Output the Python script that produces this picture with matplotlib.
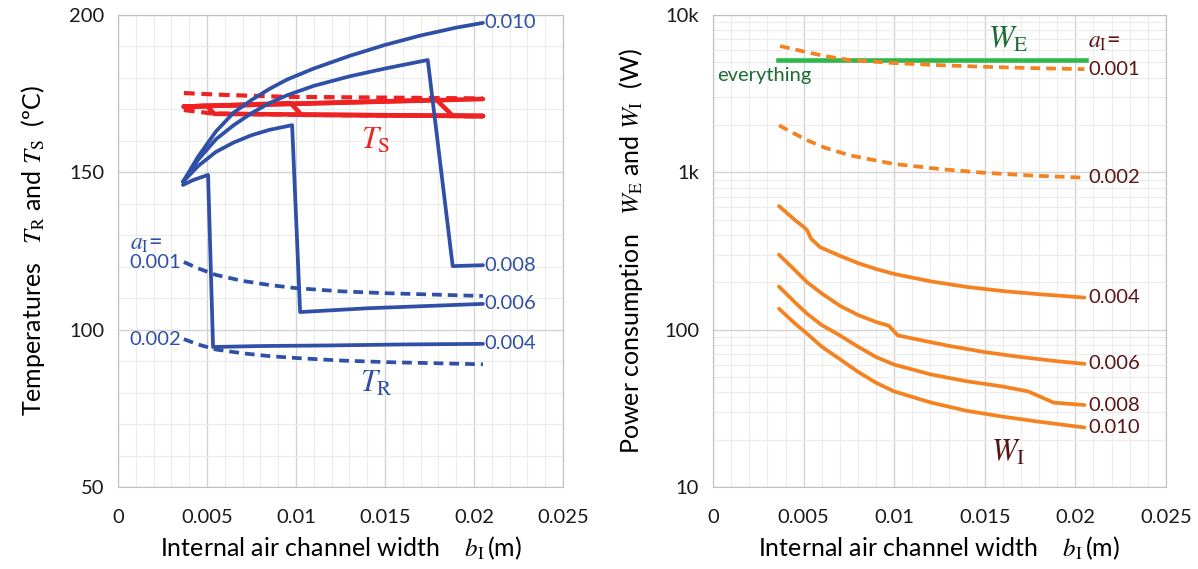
import numpy as np
import matplotlib
matplotlib.use("Agg")
import matplotlib.pyplot as plt
from matplotlib.ticker import MultipleLocator, LogLocator, FixedLocator, NullFormatter

plt.rcParams['font.family'] = ['Lato', 'DejaVu Sans']
plt.rcParams['mathtext.fontset'] = 'stix'

# ── Left panel: temperatures T_R (blue) and T_S (red) ─────────
# T_R, solid curves, a_I = 0.004 .. 0.010
tr_004_x = [0.00365, 0.0042, 0.00506, 0.00534, 0.008, 0.012, 0.016, 0.0205]
tr_004_y = [146.0, 147.5, 149.2, 94.5, 94.8, 95.0, 95.3, 95.5]
tr_006_x = [0.00365, 0.0045, 0.0055, 0.0065, 0.0075, 0.0085, 0.00978, 0.01023, 0.014, 0.0205]
tr_006_y = [147.0, 152.0, 156.5, 159.5, 161.8, 163.5, 165.0, 105.6, 106.8, 108.2]
tr_008_x = [0.00365, 0.0045, 0.0055, 0.0065, 0.0075, 0.0085, 0.0095, 0.011,
            0.013, 0.015, 0.0174, 0.0188, 0.0205]
tr_008_y = [147.0, 154.0, 160.5, 165.0, 168.8, 172.0, 174.5, 177.5,
            180.5, 183.0, 185.7, 120.2, 120.5]
tr_010_x = [0.00365, 0.0045, 0.0055, 0.0065, 0.0075, 0.0085, 0.0095, 0.011,
            0.013, 0.015, 0.017, 0.019, 0.0205]
tr_010_y = [147.0, 155.0, 163.0, 169.0, 173.0, 176.5, 179.5, 183.0,
            187.0, 190.5, 193.5, 196.0, 197.5]
# T_R, dashed curves, a_I = 0.001, 0.002
tr_001_x = [0.0037, 0.0045, 0.0055, 0.007, 0.0085, 0.010, 0.0125, 0.015, 0.0205]
tr_001_y = [121.5, 119.5, 117.4, 115.5, 114.2, 113.2, 112.2, 111.6, 110.7]
tr_002_x = [0.0037, 0.0045, 0.0055, 0.007, 0.0085, 0.010, 0.0125, 0.015, 0.0205]
tr_002_y = [97.0, 95.3, 93.7, 92.5, 91.6, 91.0, 90.2, 89.7, 89.0]

# T_S curves
ts_001_x = [0.0037, 0.006, 0.0095, 0.0205]
ts_001_y = [175.2, 174.6, 174.0, 173.5]
ts_002_x = [0.0037, 0.0053, 0.010, 0.0205]
ts_002_y = [169.8, 168.7, 168.3, 167.8]
ts_004_x = [0.0037, 0.0050, 0.0054, 0.0205]
ts_004_y = [170.9, 171.1, 168.6, 167.9]
ts_006_x = [0.0037, 0.0097, 0.0103, 0.0205]
ts_006_y = [170.9, 172.0, 168.3, 167.9]
ts_008_x = [0.0037, 0.0179, 0.0188, 0.0205]
ts_008_y = [170.9, 173.0, 168.0, 167.9]
ts_010_x = [0.0037, 0.0205]
ts_010_y = [170.9, 173.3]

# ── Right panel: power consumption ────────────────────────────
we_x = [0.0036, 0.0206]
we_y = [5170, 5170]
wi_001_x = [0.0037, 0.0045, 0.0052, 0.0062, 0.00756, 0.0099, 0.0125, 0.0149, 0.0175, 0.0205]
wi_001_y = [6350, 6050, 5800, 5480, 5170, 4960, 4800, 4690, 4600, 4530]
wi_002_x = [0.00364, 0.0045, 0.0052, 0.0062, 0.00756, 0.0099, 0.0125, 0.0149, 0.0175, 0.0205]
wi_002_y = [1990, 1760, 1600, 1430, 1282, 1135, 1050, 995, 955, 925]
wi_004_x = [0.00364, 0.0045, 0.0050, 0.0052, 0.0054, 0.0059, 0.007, 0.008, 0.009,
            0.010, 0.012, 0.014, 0.016, 0.018, 0.0205]
wi_004_y = [610, 500, 450, 428, 380, 335, 295, 265, 243,
            226, 203, 187, 176, 168, 160]
wi_006_x = [0.00364, 0.0045, 0.0052, 0.006, 0.007, 0.008, 0.009, 0.0097, 0.0102,
            0.011, 0.013, 0.015, 0.017, 0.019, 0.0205]
wi_006_y = [300, 240, 200, 170, 142, 124, 112, 106, 92,
            88, 79, 72, 67, 63, 60.7]
wi_008_x = [0.00364, 0.0045, 0.0052, 0.006, 0.007, 0.008, 0.009, 0.010, 0.012,
            0.014, 0.016, 0.0174, 0.0188, 0.0205]
wi_008_y = [188, 150, 126, 107, 92, 78, 67, 60, 52,
            47, 43.5, 40.5, 34.4, 33.2]
wi_010_x = [0.00364, 0.0045, 0.0052, 0.006, 0.007, 0.008, 0.009, 0.010, 0.012,
            0.014, 0.016, 0.018, 0.0205]
wi_010_y = [136, 110, 94, 78, 65, 54, 46, 40.5, 34.5,
            30.5, 28, 26, 23.9]

BLUE = "#3050A8"
RED = "#EE2222"
ORANGE = "#F58220"
GREEN = "#2DB84B"
DKGREEN = "#1E6B35"
DKRED = "#5A1414"
DASH = (2.6, 1.6)


def style_axes(ax):
    ax.grid(which='major', color='#d4d4d4', linewidth=1.0)
    ax.grid(which='minor', color='#ececec', linewidth=0.8)
    ax.set_axisbelow(True)
    for s in ax.spines.values():
        s.set_color('#bfbfbf')
    ax.tick_params(which='both', length=0, labelsize=14.5, colors='#1a1a1a')
    ax.tick_params(axis='x', pad=16)
    ax.tick_params(axis='y', pad=10)
    ax.set_xlim(0, 0.025)
    ax.xaxis.set_minor_locator(MultipleLocator(0.001))
    ax.set_xticks([0, 0.005, 0.01, 0.015, 0.02, 0.025])
    ax.set_xticklabels(["0", "0.005", "0.01", "0.015", "0.02", "0.025"])
    ax.set_xlabel(r"Internal air channel width    $b_\mathrm{I}\,$(m)", fontsize=18, labelpad=6)


fig = plt.figure(figsize=(11.98, 5.69), dpi=100)
ax1 = fig.add_axes([0.0985, 0.1441, 0.3715, 0.8295])
ax2 = fig.add_axes([0.5952, 0.1441, 0.378, 0.8295])

# ── left ──
style_axes(ax1)
ax1.set_ylim(50, 200)
ax1.yaxis.set_major_locator(MultipleLocator(50))
ax1.yaxis.set_minor_locator(MultipleLocator(10))
ax1.set_ylabel(r"Temperatures   $T_\mathrm{R}$ and $T_\mathrm{S}$  (ºC)", fontsize=18, labelpad=16)

for xs, ys in [(ts_010_x, ts_010_y), (ts_008_x, ts_008_y), (ts_006_x, ts_006_y), (ts_004_x, ts_004_y)]:
    ax1.plot(xs, ys, color=RED, lw=3.3, solid_capstyle='round')
for xs, ys in [(ts_001_x, ts_001_y), (ts_002_x, ts_002_y)]:
    ax1.plot(xs, ys, color=RED, lw=3.0, dashes=DASH)

for xs, ys in [(tr_010_x, tr_010_y), (tr_008_x, tr_008_y), (tr_006_x, tr_006_y), (tr_004_x, tr_004_y)]:
    ax1.plot(xs, ys, color=BLUE, lw=2.7, solid_capstyle='round')
for xs, ys in [(tr_001_x, tr_001_y), (tr_002_x, tr_002_y)]:
    ax1.plot(xs, ys, color=BLUE, lw=2.7, dashes=DASH)

lab_kw = dict(color=BLUE, fontsize=14.5, va='center', ha='left')
ax1.text(0.0206, tr_010_y[-1], "0.010", **lab_kw)
ax1.text(0.0206, tr_008_y[-1], "0.008", **lab_kw)
ax1.text(0.0206, tr_006_y[-1], "0.006", **lab_kw)
ax1.text(0.0206, tr_004_y[-1], "0.004", **lab_kw)
ax1.text(0.00065, 127, r"$a_\mathrm{I}$=", color=BLUE, fontsize=17, va='center', ha='left')
ax1.text(0.00065, tr_001_y[0], "0.001", **lab_kw)
ax1.text(0.00065, tr_002_y[0], "0.002", **lab_kw)
ax1.text(0.0145, 160, r"$T_\mathrm{S}$", color=RED, fontsize=22, ha='center', va='center')
ax1.text(0.0145, 83, r"$T_\mathrm{R}$", color=BLUE, fontsize=22, ha='center', va='center')

# ── right ──
style_axes(ax2)
ax2.set_yscale('log')
ax2.set_ylim(10, 10000)
ax2.yaxis.set_major_locator(FixedLocator([10, 100, 1000, 10000]))
ax2.yaxis.set_minor_locator(LogLocator(base=10, subs=np.arange(2, 10)))
ax2.yaxis.set_minor_formatter(NullFormatter())
ax2.set_yticks([10, 100, 1000, 10000])
ax2.set_yticklabels(["10", "100", "1k", "10k"])
ax2.set_ylabel(r"Power consumption   $W_\mathrm{E}$ and $W_\mathrm{I}$  (W)", fontsize=18, labelpad=14)

ax2.plot(we_x, we_y, color=GREEN, lw=3.3)
for xs, ys in [(wi_001_x, wi_001_y), (wi_002_x, wi_002_y)]:
    ax2.plot(xs, ys, color=ORANGE, lw=2.7, dashes=DASH)
for xs, ys in [(wi_004_x, wi_004_y), (wi_006_x, wi_006_y), (wi_008_x, wi_008_y), (wi_010_x, wi_010_y)]:
    ax2.plot(xs, ys, color=ORANGE, lw=2.7, solid_capstyle='round')

rk = dict(color=DKRED, fontsize=14.5, va='center', ha='left')
ax2.text(0.0207, 6700, r"$a_\mathrm{I}$=", color=DKRED, fontsize=17, va='center', ha='left')
for xs, ys, lab in [(wi_001_x, wi_001_y, "0.001"), (wi_002_x, wi_002_y, "0.002"),
                    (wi_004_x, wi_004_y, "0.004"), (wi_006_x, wi_006_y, "0.006"),
                    (wi_008_x, wi_008_y, "0.008"), (wi_010_x, wi_010_y, "0.010")]:
    ax2.text(0.0207, ys[-1], lab, **rk)
ax2.text(0.0163, 7000, r"$W_\mathrm{E}$", color=DKGREEN, fontsize=22, ha='center', va='center')
ax2.text(0.0002, 4100, "everything", color=DKGREEN, fontsize=14.5, ha='left', va='center')
ax2.text(0.0163, 16.5, r"$W_\mathrm{I}$", color=DKRED, fontsize=22, ha='center', va='center')

plt.savefig("out.png", dpi=100)
